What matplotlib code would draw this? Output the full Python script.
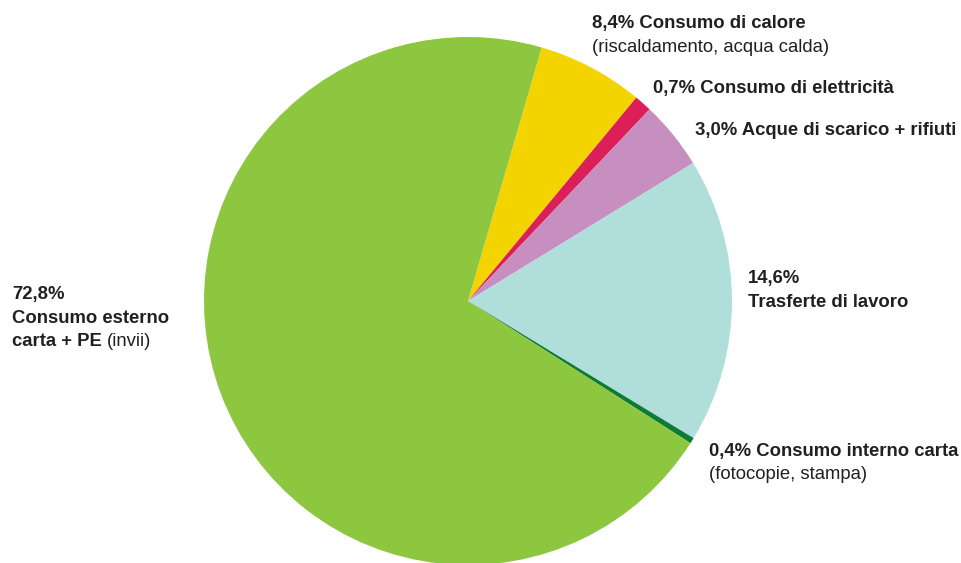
import matplotlib
matplotlib.use('Agg')
import matplotlib.pyplot as plt

plt.rcParams['font.family'] = ['Liberation Sans', 'DejaVu Sans']

# slices in drawing order (clockwise from the top), sizes as drawn in the picture
categories = ['Consumo di calore', 'Consumo di elettricità', 'Acque di scarico + rifiuti',
              'Trasferte di lavoro', 'Consumo interno carta', 'Consumo esterno carta + PE']
sizes = [6.5, 1.07, 4.18, 17.44, 0.36, 70.45]
pct_labels = ['8,4%', '0,7%', '3,0%', '14,6%', '0,4%', '72,8%']
colors = ['#F3D300', '#DC1F58', '#C78EC0', '#B0DEDB', '#0E7A35', '#8DC63F']

W, H = 962, 563
txt_color = '#231F20'
fs = 13.3

fig = plt.figure(figsize=(W / 100, H / 100), dpi=100)
# pie centre at (468, 301) px, radius 264 px
cx, cy, r = 468, 301, 264
ax = fig.add_axes([(cx - r) / W, (H - cy - r) / H, 2 * r / W, 2 * r / H])
ax.pie(sizes, colors=colors, startangle=73.8, counterclock=False, radius=1,
       wedgeprops=dict(linewidth=0))
ax.set_xlim(-1, 1)
ax.set_ylim(-1, 1)
ax.set_aspect('equal')
ax.axis('off')


def put(x, y, s, bold=True):
    return fig.text(x / W, 1 - y / H, s, fontsize=fs, color=txt_color,
                    fontweight='bold' if bold else 'normal', ha='left', va='baseline')


put(592, 28, pct_labels[0] + ' ' + categories[0])
put(592, 52, '(riscaldamento, acqua calda)', bold=False)
put(653, 93, pct_labels[1] + ' ' + categories[1])
put(695, 135, pct_labels[2] + ' ' + categories[2])
put(748, 283, pct_labels[3])
put(748, 307, categories[3])
put(709, 456, pct_labels[4] + ' ' + categories[4])
put(709, 479, '(fotocopie, stampa)', bold=False)
put(12, 299, pct_labels[5])
put(12, 323, 'Consumo esterno')
t = put(12, 346, 'carta + PE')
fig.canvas.draw()
bb = t.get_window_extent()
put(bb.x1 + 5, 346, '(invii)', bold=False)

fig.savefig('out.png', dpi=100, facecolor='white')
